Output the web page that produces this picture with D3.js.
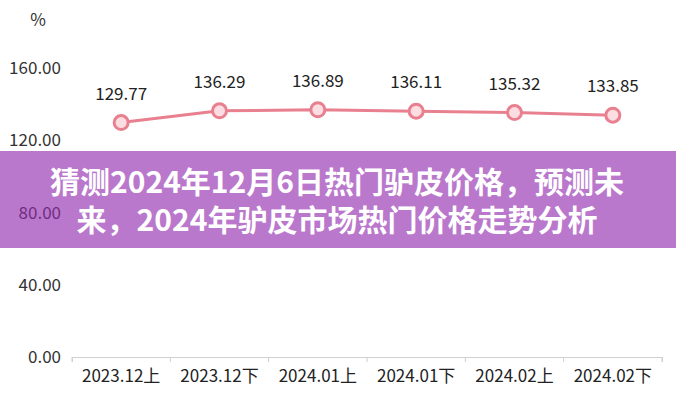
<!DOCTYPE html>
<html><head><meta charset="utf-8">
<script src="https://cdn.jsdelivr.net/npm/d3@7"></script>
<style>html,body{margin:0;padding:0;background:#fff;}svg{display:block;}</style>
</head><body>
<svg id="c" width="676" height="400"></svg>
<script>
const categories = ["2023.12上","2023.12下","2024.01上","2024.01下","2024.02上","2024.02下"];
const values = [129.77, 136.29, 136.89, 136.11, 135.32, 133.85];
const yTicks = [0, 40, 80, 120, 160];
const unitLabel = "%";
const titleLines = ["猜测2024年12月6日热门驴皮价格，预测未","来，2024年驴皮市场热门价格走势分析"];

const svg = d3.select("#c");
const font = "'Noto Sans CJK SC','Noto Sans',sans-serif";
const x = d3.scaleBand().domain(categories).range([72, 662]);
const y = d3.scaleLinear().domain([0,160]).range([357, 68]);

// y labels
svg.append("g").selectAll("text").data(yTicks).join("text")
  .attr("x", 61).attr("y", d => y(d)).attr("dy","0.36em")
  .attr("text-anchor","end").attr("font-family",font).attr("font-size",17).attr("fill","#333")
  .text(d => d.toFixed(2));
svg.append("text").attr("x",38).attr("y",20).attr("dy","0.36em").attr("text-anchor","middle")
  .attr("font-family",font).attr("font-size",17).attr("fill","#333").text(unitLabel);

// x axis
const xa = svg.append("g").attr("transform",`translate(0,${y(0)})`)
  .call(d3.axisBottom(x).tickSizeInner(5).tickSizeOuter(5).tickPadding(8));
xa.select(".domain").attr("stroke","#d0d0d0");
xa.selectAll(".tick line").remove();
const edges = categories.map(c => x(c)).concat([x.range()[1]]);
xa.selectAll(".edge").data(edges).join("line").attr("class","edge")
  .attr("x1",d=>d).attr("x2",d=>d).attr("y1",0).attr("y2",5).attr("stroke","#d0d0d0");
xa.selectAll(".tick text").attr("font-family",font).attr("font-size",17).attr("fill","#222");

const cx = d => x(d) + x.bandwidth()/2;
const pts = categories.map((c,i)=>[cx(c), y(values[i])]);
svg.append("path").attr("d", d3.line()(pts)).attr("fill","none").attr("stroke","#e8808f").attr("stroke-width",3);
svg.append("g").selectAll("circle").data(pts).join("circle")
  .attr("cx",d=>d[0]).attr("cy",d=>d[1]).attr("r",7)
  .attr("fill","#fbdde2").attr("stroke","#e8808f").attr("stroke-width",3);
svg.append("g").selectAll("text").data(values).join("text")
  .attr("x",(d,i)=>pts[i][0]).attr("y",(d,i)=>pts[i][1]-29).attr("dy","0.36em")
  .attr("text-anchor","middle").attr("font-family",font).attr("font-size",17).attr("fill","#222")
  .text(d=>d.toFixed(2));

// banner
svg.append("rect").attr("x",0).attr("y",151).attr("width",676).attr("height",97)
  .attr("fill","rgb(146,41,175)").attr("fill-opacity",0.63);
const title = svg.append("text").attr("text-anchor","middle")
  .attr("font-family",font).attr("font-size",30).attr("font-weight","bold").attr("fill","#fff");
title.selectAll("tspan").data(titleLines).join("tspan")
  .attr("x",337).attr("y",(d,i)=>182+i*38).attr("dy","0.36em").text(d=>d);
</script>
</body></html>
